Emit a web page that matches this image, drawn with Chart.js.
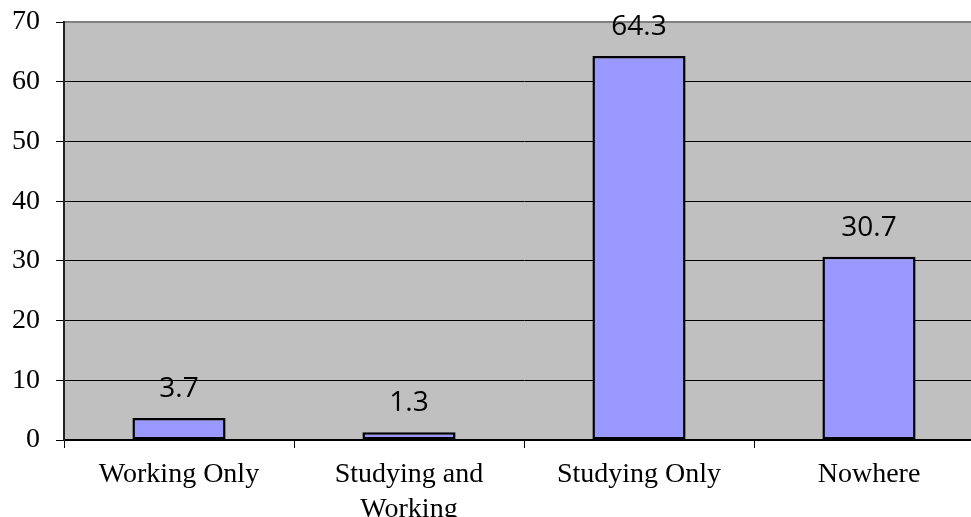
<!DOCTYPE html>
<html>
<head>
<meta charset="utf-8">
<script src="https://cdn.jsdelivr.net/npm/chart.js@4"></script>
<style>
  html, body { margin: 0; padding: 0; background: #fff; overflow: hidden; }
  canvas { display: block; }
</style>
</head>
<body>
<canvas id="statusChart" width="985" height="517"></canvas>
<script>
const categories = [['Working Only'], ['Studying and', 'Working'], ['Studying Only'], ['Nowhere']];
const percents = [3.7, 1.3, 64.3, 30.7];
const yTicks = [0, 10, 20, 30, 40, 50, 60, 70];

// gray plot background
const plotBackground = {
	id: 'plotBackground',
	beforeDraw(chart) {
		const { ctx, chartArea: a } = chart;
		ctx.save();
		ctx.fillStyle = '#c0c0c0';
		ctx.fillRect(a.left, a.top, a.right - a.left, a.bottom - a.top);
		ctx.restore();
	},
};

// gray top edge of the plot, then the value written above each bar
const valueLabels = {
	id: 'valueLabels',
	afterDatasetsDraw(chart) {
		const ctx = chart.ctx;
		const a = chart.chartArea;
		const meta = chart.getDatasetMeta(0);
		ctx.save();
		ctx.strokeStyle = '#808080';
		ctx.lineWidth = 2;
		ctx.beginPath();
		ctx.moveTo(a.left + 1, a.top);
		ctx.lineTo(a.right, a.top);
		ctx.stroke();

		ctx.font = '28px "Open Sans"';
		ctx.fillStyle = '#000';
		ctx.textAlign = 'center';
		ctx.textBaseline = 'alphabetic';
		meta.data.forEach(function (bar, i) {
			ctx.fillText(String(percents[i]), bar.x, bar.y - 21);
		});
		ctx.restore();
	},
};

var ctx = document.getElementById('statusChart').getContext('2d');

var statusChart = new Chart(ctx, {
	type: 'bar',
	data: {
		labels: categories,
		datasets: [
			{
				data: percents,
				backgroundColor: '#9999ff',
				borderColor: '#000',
				borderWidth: 2.5,
				borderSkipped: false,
				categoryPercentage: 1,
				barPercentage: 0.405,
			},
		],
	},
	options: {
		responsive: false,
		animation: false,
		layout: { padding: { top: 22, right: 1, left: 0, bottom: 0 } },
		plugins: {
			legend: { display: false },
			tooltip: { enabled: false },
		},
		scales: {
			x: {
				offset: true,
				grid: {
					offset: true,
					drawOnChartArea: false,
					color: '#000',
					tickLength: 8,
				},
				border: { color: '#000', width: 2 },
				ticks: {
					color: '#000',
					font: { family: '"Liberation Serif"', size: 28, lineHeight: 1.22 },
					padding: 10,
					maxRotation: 0,
					autoSkip: false,
				},
				afterFit(scale) { scale.height = 77; },
			},
			y: {
				min: 0,
				max: 70,
				afterBuildTicks(scale) {
					scale.ticks = yTicks.map(function (v) { return { value: v }; });
				},
				grid: {
					color: '#000',
					lineWidth: 1,
					tickLength: 8,
				},
				border: { color: '#222', width: 2 },
				ticks: {
					color: '#000',
					font: { family: '"Liberation Serif"', size: 28 },
					padding: 16,
				},
				afterFit(scale) {
					scale.width = 64;
					scale.paddingTop = 0;
					scale.paddingBottom = 0;
				},
			},
		},
	},
	plugins: [plotBackground, valueLabels],
});
</script>
</body>
</html>
